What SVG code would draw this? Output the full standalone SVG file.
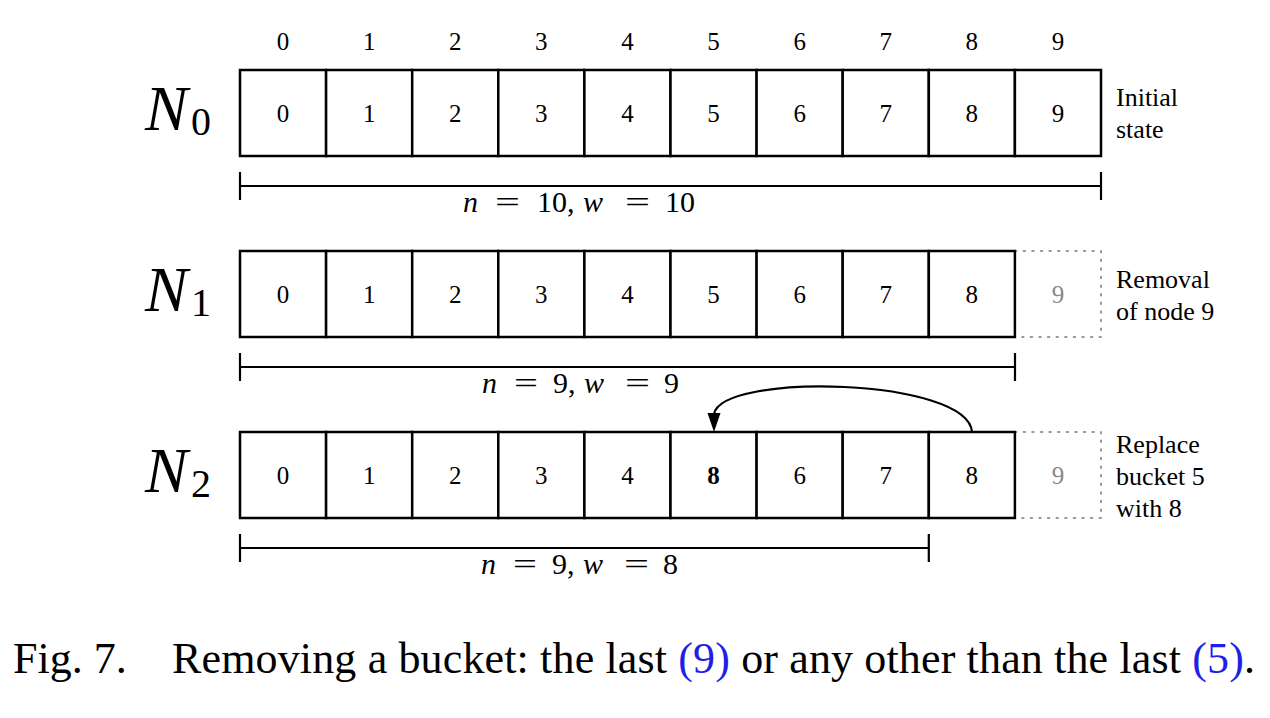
<svg xmlns="http://www.w3.org/2000/svg" width="1270" height="718" viewBox="0 0 1270 718">
<style>
.cell{fill:#fff;stroke:#000;stroke-width:2.5}
.ghost{fill:none;stroke:#999;stroke-width:2;stroke-dasharray:1.5 7.1;stroke-linecap:round}
.d{font-family:"Liberation Serif",serif;font-size:25px;text-anchor:middle;fill:#000}
.g{fill:#888}
.b{font-weight:bold}
.N{font-family:"Liberation Serif",serif;font-style:italic;font-size:64px;fill:#000}
.sub{font-family:"Liberation Serif",serif;font-size:40px;fill:#000}
.note{font-family:"Liberation Serif",serif;font-size:26px;fill:#000}
.dim{stroke:#000;stroke-width:2.2;fill:none}
.m{font-family:"Liberation Serif",serif;font-size:30px;fill:#000}
.i{font-style:italic}
.cap{font-family:"Liberation Serif",serif;font-size:44px;fill:#000}
.blue{fill:#1f1fe6}
</style>

<g id="indices">
<text class="d" x="283.05" y="50">0</text>
<text class="d" x="369.15" y="50">1</text>
<text class="d" x="455.25" y="50">2</text>
<text class="d" x="541.35" y="50">3</text>
<text class="d" x="627.45" y="50">4</text>
<text class="d" x="713.55" y="50">5</text>
<text class="d" x="799.65" y="50">6</text>
<text class="d" x="885.75" y="50">7</text>
<text class="d" x="971.85" y="50">8</text>
<text class="d" x="1057.95" y="50">9</text>
</g>

<g id="row0">
<text class="N" x="145" y="130">N</text><text class="sub" x="191" y="135">0</text>
<rect class="cell" x="240" y="70" width="86.1" height="86"/>
<rect class="cell" x="326.1" y="70" width="86.1" height="86"/>
<rect class="cell" x="412.2" y="70" width="86.1" height="86"/>
<rect class="cell" x="498.3" y="70" width="86.1" height="86"/>
<rect class="cell" x="584.4" y="70" width="86.1" height="86"/>
<rect class="cell" x="670.5" y="70" width="86.1" height="86"/>
<rect class="cell" x="756.6" y="70" width="86.1" height="86"/>
<rect class="cell" x="842.7" y="70" width="86.1" height="86"/>
<rect class="cell" x="928.8" y="70" width="86.1" height="86"/>
<rect class="cell" x="1014.9" y="70" width="86.1" height="86"/>
<text class="d" x="283.05" y="122">0</text>
<text class="d" x="369.15" y="122">1</text>
<text class="d" x="455.25" y="122">2</text>
<text class="d" x="541.35" y="122">3</text>
<text class="d" x="627.45" y="122">4</text>
<text class="d" x="713.55" y="122">5</text>
<text class="d" x="799.65" y="122">6</text>
<text class="d" x="885.75" y="122">7</text>
<text class="d" x="971.85" y="122">8</text>
<text class="d" x="1057.95" y="122">9</text>
<text class="note" x="1116" y="106">Initial</text>
<text class="note" x="1116" y="138">state</text>
<path class="dim" d="M240,172V200M240,186H1101M1101,172V200"/>
<text class="m" y="212"><tspan class="i" x="463">n</tspan><tspan x="495" textLength="25" lengthAdjust="spacingAndGlyphs">=</tspan><tspan x="537">10,</tspan><tspan class="i" x="583">w</tspan><tspan x="625" textLength="25" lengthAdjust="spacingAndGlyphs">=</tspan><tspan x="665">10</tspan></text>
</g>

<g id="row1">
<text class="N" x="145" y="311">N</text><text class="sub" x="191" y="316">1</text>
<rect class="ghost" x="1015" y="251" width="86" height="86"/>
<rect class="cell" x="240" y="251" width="86.1" height="86"/>
<rect class="cell" x="326.1" y="251" width="86.1" height="86"/>
<rect class="cell" x="412.2" y="251" width="86.1" height="86"/>
<rect class="cell" x="498.3" y="251" width="86.1" height="86"/>
<rect class="cell" x="584.4" y="251" width="86.1" height="86"/>
<rect class="cell" x="670.5" y="251" width="86.1" height="86"/>
<rect class="cell" x="756.6" y="251" width="86.1" height="86"/>
<rect class="cell" x="842.7" y="251" width="86.1" height="86"/>
<rect class="cell" x="928.8" y="251" width="86.1" height="86"/>
<text class="d" x="283.05" y="303">0</text>
<text class="d" x="369.15" y="303">1</text>
<text class="d" x="455.25" y="303">2</text>
<text class="d" x="541.35" y="303">3</text>
<text class="d" x="627.45" y="303">4</text>
<text class="d" x="713.55" y="303">5</text>
<text class="d" x="799.65" y="303">6</text>
<text class="d" x="885.75" y="303">7</text>
<text class="d" x="971.85" y="303">8</text>
<text class="d g" x="1057.95" y="303">9</text>
<text class="note" x="1116" y="288">Removal</text>
<text class="note" x="1116" y="320">of node 9</text>
<path class="dim" d="M240,353V381M240,367H1015M1015,353V381"/>
<text class="m" y="393"><tspan class="i" x="482">n</tspan><tspan x="514" textLength="24" lengthAdjust="spacingAndGlyphs">=</tspan><tspan x="553">9,</tspan><tspan class="i" x="584">w</tspan><tspan x="625" textLength="25" lengthAdjust="spacingAndGlyphs">=</tspan><tspan x="664">9</tspan></text>
</g>

<g id="row2">
<text class="N" x="145" y="492">N</text><text class="sub" x="191" y="497">2</text>
<rect class="ghost" x="1015" y="432" width="86" height="86"/>
<rect class="cell" x="240" y="432" width="86.1" height="86"/>
<rect class="cell" x="326.1" y="432" width="86.1" height="86"/>
<rect class="cell" x="412.2" y="432" width="86.1" height="86"/>
<rect class="cell" x="498.3" y="432" width="86.1" height="86"/>
<rect class="cell" x="584.4" y="432" width="86.1" height="86"/>
<rect class="cell" x="670.5" y="432" width="86.1" height="86"/>
<rect class="cell" x="756.6" y="432" width="86.1" height="86"/>
<rect class="cell" x="842.7" y="432" width="86.1" height="86"/>
<rect class="cell" x="928.8" y="432" width="86.1" height="86"/>
<text class="d" x="283.05" y="484">0</text>
<text class="d" x="369.15" y="484">1</text>
<text class="d" x="455.25" y="484">2</text>
<text class="d" x="541.35" y="484">3</text>
<text class="d" x="627.45" y="484">4</text>
<text class="d b" x="713.55" y="484">8</text>
<text class="d" x="799.65" y="484">6</text>
<text class="d" x="885.75" y="484">7</text>
<text class="d" x="971.85" y="484">8</text>
<text class="d g" x="1057.95" y="484">9</text>
<text class="note" x="1116" y="453">Replace</text>
<text class="note" x="1116" y="485">bucket 5</text>
<text class="note" x="1116" y="517">with 8</text>
<path class="dim" d="M928.8,534V562M240,548H928.8M240,534V562"/>
<text class="m" y="574"><tspan class="i" x="481">n</tspan><tspan x="513" textLength="24" lengthAdjust="spacingAndGlyphs">=</tspan><tspan x="552">9,</tspan><tspan class="i" x="583">w</tspan><tspan x="624" textLength="25" lengthAdjust="spacingAndGlyphs">=</tspan><tspan x="663">8</tspan></text>
</g>

<g id="connectors">
<path d="M972,432C968,378 722,372 714,414" fill="none" stroke="#000" stroke-width="2.2"/>
<path d="M714,432L707.5,413L720.5,413Z" fill="#000"/>
</g>

<g id="caption">
<text class="cap" x="13" y="673">Fig. 7.</text>
<text class="cap" x="172" y="673" textLength="1083" lengthAdjust="spacing">Removing a bucket: the last <tspan class="blue">(9)</tspan> or any other than the last <tspan class="blue">(5)</tspan>.</text>
</g>
</svg>
